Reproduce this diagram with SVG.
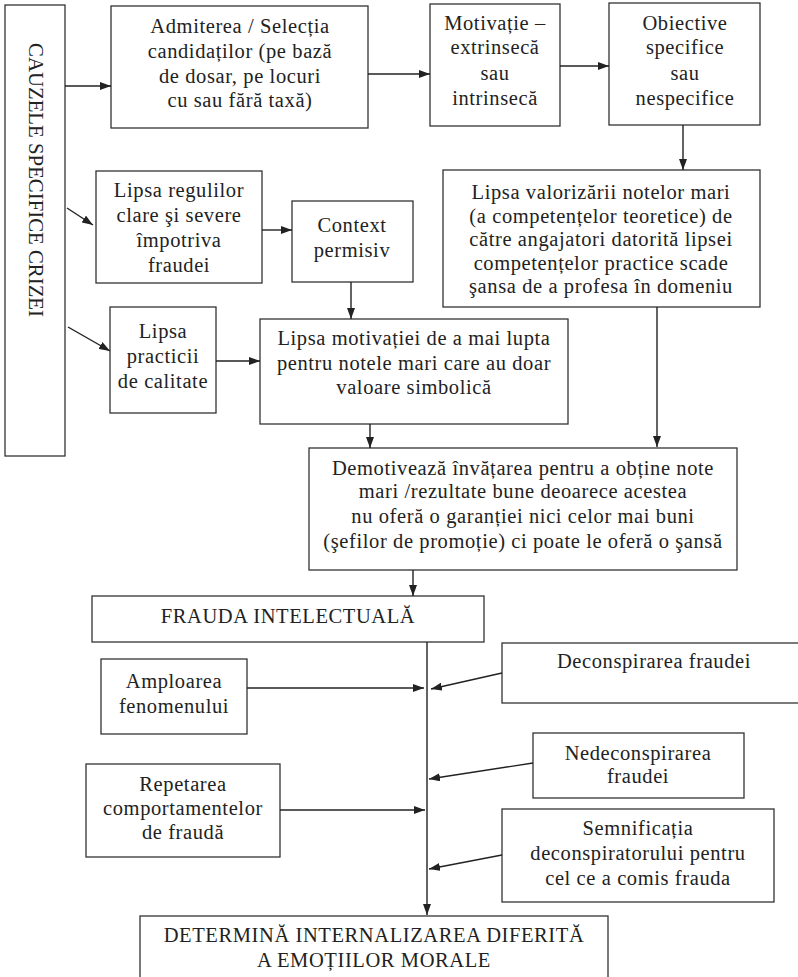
<svg xmlns="http://www.w3.org/2000/svg" width="798" height="977" viewBox="0 0 798 977">
<defs>
<marker id="ah" markerUnits="userSpaceOnUse" markerWidth="11" markerHeight="8" refX="11" refY="4" orient="auto">
<path d="M0,0 L11,4 L0,8 z" fill="#222"/>
</marker>
<style>
.b{fill:#fff;stroke:#333;stroke-width:1.3}
.t{font-family:"Liberation Serif","Times New Roman",serif;font-size:20.5px;letter-spacing:0.6px;fill:#222;text-anchor:middle}
.c{stroke:#222;stroke-width:1.4;fill:none;marker-end:url(#ah)}
</style>
</defs>
<rect width="798" height="977" fill="#fff"/>

<g id="cauze">
<rect class="b" x="5" y="5" width="60" height="451"/>
<text class="t" transform="translate(29,180) rotate(90)" x="0" y="0" style="font-size:21.5px;letter-spacing:0" textLength="274" lengthAdjust="spacingAndGlyphs">CAUZELE SPECIFICE CRIZEI</text>
</g>

<g id="admiterea">
<rect class="b" x="111" y="6" width="257" height="122"/>
<text class="t"><tspan x="240" y="33">Admiterea / Selecția</tspan><tspan x="240" y="58">candidaților (pe bază</tspan><tspan x="240" y="83">de dosar, pe locuri</tspan><tspan x="240" y="107">cu sau fără taxă)</tspan></text>
</g>

<g id="motivatie">
<rect class="b" x="430" y="4" width="130" height="122"/>
<text class="t"><tspan x="495" y="30">Motivație –</tspan><tspan x="495" y="54">extrinsecă</tspan><tspan x="495" y="80">sau</tspan><tspan x="495" y="105">intrinsecă</tspan></text>
</g>

<g id="obiective">
<rect class="b" x="609" y="3" width="151" height="122"/>
<text class="t"><tspan x="685" y="30">Obiective</tspan><tspan x="685" y="54">specifice</tspan><tspan x="685" y="80">sau</tspan><tspan x="685" y="105">nespecifice</tspan></text>
</g>

<g id="lipsa-valorizarii">
<rect class="b" x="443" y="170" width="317" height="137"/>
<text class="t"><tspan x="601" y="199">Lipsa valorizării notelor mari</tspan><tspan x="601" y="222.5">(a competențelor teoretice) de</tspan><tspan x="601" y="246">către angajatori datorită lipsei</tspan><tspan x="601" y="269.5">competențelor practice scade</tspan><tspan x="601" y="293">şansa de a profesa în domeniu</tspan></text>
</g>

<g id="lipsa-regulilor">
<rect class="b" x="96" y="171" width="166" height="112"/>
<text class="t"><tspan x="179" y="197">Lipsa regulilor</tspan><tspan x="179" y="222">clare şi severe</tspan><tspan x="179" y="247">împotriva</tspan><tspan x="179" y="272">fraudei</tspan></text>
</g>

<g id="context">
<rect class="b" x="292" y="201" width="121" height="81"/>
<text class="t"><tspan x="352" y="232">Context</tspan><tspan x="352" y="257">permisiv</tspan></text>
</g>

<g id="lipsa-practicii">
<rect class="b" x="110" y="307" width="106" height="106"/>
<text class="t"><tspan x="163" y="338">Lipsa</tspan><tspan x="163" y="363">practicii</tspan><tspan x="163" y="388">de calitate</tspan></text>
</g>

<g id="lipsa-motivatiei">
<rect class="b" x="260" y="319" width="308" height="105"/>
<text class="t"><tspan x="414" y="345">Lipsa motivației de a mai lupta</tspan><tspan x="414" y="370">pentru notele mari care au doar</tspan><tspan x="414" y="394">valoare simbolică</tspan></text>
</g>

<g id="demotiveaza">
<rect class="b" x="309" y="448" width="428" height="122"/>
<text class="t"><tspan x="523" y="475">Demotivează învățarea pentru a obține note</tspan><tspan x="523" y="498">mari /rezultate bune deoarece acestea</tspan><tspan x="523" y="523">nu oferă o garanției nici celor mai buni</tspan><tspan x="523" y="548">(şefilor de promoție) ci poate le oferă o şansă</tspan></text>
</g>

<g id="frauda">
<rect class="b" x="92" y="596" width="392" height="46"/>
<text class="t" x="288" y="623">FRAUDA INTELECTUALĂ</text>
</g>

<g id="amploarea">
<rect class="b" x="101" y="659" width="146" height="75"/>
<text class="t"><tspan x="174" y="688">Amploarea</tspan><tspan x="174" y="713">fenomenului</tspan></text>
</g>

<g id="deconspirarea">
<rect class="b" x="502" y="643" width="310" height="60"/>
<text class="t" x="654" y="668">Deconspirarea fraudei</text>
</g>

<g id="nedeconspirarea">
<rect class="b" x="533" y="733" width="211" height="65"/>
<text class="t"><tspan x="638" y="760">Nedeconspirarea</tspan><tspan x="638" y="783">fraudei</tspan></text>
</g>

<g id="repetarea">
<rect class="b" x="86" y="764" width="194" height="93"/>
<text class="t"><tspan x="183" y="791">Repetarea</tspan><tspan x="183" y="815">comportamentelor</tspan><tspan x="183" y="839">de fraudă</tspan></text>
</g>

<g id="semnificatia">
<rect class="b" x="502" y="809" width="272" height="93"/>
<text class="t"><tspan x="638" y="835">Semnificația</tspan><tspan x="638" y="860">deconspiratorului pentru</tspan><tspan x="638" y="885">cel ce a comis frauda</tspan></text>
</g>

<g id="determina">
<rect class="b" x="140" y="916" width="468" height="80"/>
<text class="t"><tspan x="374" y="942">DETERMINĂ INTERNALIZAREA DIFERITĂ</tspan><tspan x="374" y="967">A EMOȚIILOR MORALE</tspan></text>
</g>

<g id="connectors">
<line class="c" x1="65" y1="86" x2="111" y2="86"/>
<line class="c" x1="368" y1="74" x2="430" y2="74"/>
<line class="c" x1="560" y1="66" x2="609" y2="66"/>
<line class="c" x1="683" y1="125" x2="683" y2="170"/>
<line class="c" x1="67" y1="208" x2="93" y2="225"/>
<line class="c" x1="262" y1="230" x2="292" y2="230"/>
<line class="c" x1="351" y1="282" x2="351" y2="319"/>
<line class="c" x1="68" y1="327" x2="110" y2="351"/>
<line class="c" x1="216" y1="361" x2="260" y2="361"/>
<line class="c" x1="370" y1="424" x2="370" y2="448"/>
<line class="c" x1="657" y1="307" x2="657" y2="447"/>
<line class="c" x1="413" y1="570" x2="413" y2="596"/>
<line class="c" x1="427" y1="642" x2="427" y2="915"/>
<line class="c" x1="247" y1="688" x2="424" y2="688"/>
<line class="c" x1="502" y1="673" x2="431" y2="689"/>
<line class="c" x1="533" y1="763" x2="429" y2="779"/>
<line class="c" x1="280" y1="810" x2="425" y2="810"/>
<line class="c" x1="502" y1="855" x2="429" y2="869"/>
</g>
</svg>
